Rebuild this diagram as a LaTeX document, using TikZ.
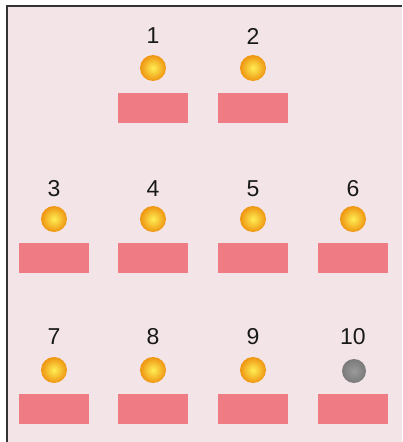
\documentclass[tikz,border=0pt]{standalone}
\usepackage{fontspec}
\setmainfont{Liberation Sans}
\definecolor{bgpink}{HTML}{F3E5E7}
\definecolor{slot}{HTML}{EF7B84}
\definecolor{frame}{HTML}{333333}
\definecolor{ballin}{HTML}{FFEE55}
\definecolor{ballout}{HTML}{EE9410}
\definecolor{greyin}{HTML}{9A9A9A}
\definecolor{greyout}{HTML}{7A7A7A}
\begin{document}
\begin{tikzpicture}[x=1pt,y=-1pt,
  slotbox/.style={fill=slot,draw=none,minimum width=70pt,minimum height=30pt,inner sep=0pt},
  goldball/.style={circle,inner sep=0pt,minimum size=26pt,draw=none,inner color=ballin,outer color=ballout},
  greyball/.style={circle,inner sep=0pt,minimum size=24pt,draw=none,inner color=greyin,outer color=greyout},
  numlabel/.style={font=\fontsize{23}{25}\selectfont,text=black!90,inner sep=0pt}]
\useasboundingbox (0,0) rectangle (402,442);
\fill[white] (0,0) rectangle (402,442);
\fill[bgpink] (7,6) rectangle (402,442);
\draw[frame,line width=1.8pt] (7,442) -- (7,6) -- (402,6);
% row 1
\node[numlabel] (l1) at (153,36) {1};
\node[numlabel] (l2) at (253,36) {2};
\node[goldball] (b1) at (153,68) {};
\node[goldball] (b2) at (253,68) {};
\node[slotbox] (s1) at (153,108) {};
\node[slotbox] (s2) at (253,108) {};
% row 2
\node[numlabel] (l3) at (54,189) {3};
\node[numlabel] (l4) at (153,189) {4};
\node[numlabel] (l5) at (253,189) {5};
\node[numlabel] (l6) at (353,189) {6};
\node[goldball] (b3) at (54,219) {};
\node[goldball] (b4) at (153,219) {};
\node[goldball] (b5) at (253,219) {};
\node[goldball] (b6) at (353,219) {};
\node[slotbox] (s3) at (54,258) {};
\node[slotbox] (s4) at (153,258) {};
\node[slotbox] (s5) at (253,258) {};
\node[slotbox] (s6) at (353,258) {};
% row 3
\node[numlabel] (l7) at (54,337) {7};
\node[numlabel] (l8) at (153,337) {8};
\node[numlabel] (l9) at (253,337) {9};
\node[numlabel] (l10) at (353,337) {10};
\node[goldball] (b7) at (54,370) {};
\node[goldball] (b8) at (153,370) {};
\node[goldball] (b9) at (253,370) {};
\node[greyball] (b10) at (354,371) {};
\node[slotbox] (s7) at (54,409) {};
\node[slotbox] (s8) at (153,409) {};
\node[slotbox] (s9) at (253,409) {};
\node[slotbox] (s10) at (353,409) {};
\end{tikzpicture}
\end{document}
